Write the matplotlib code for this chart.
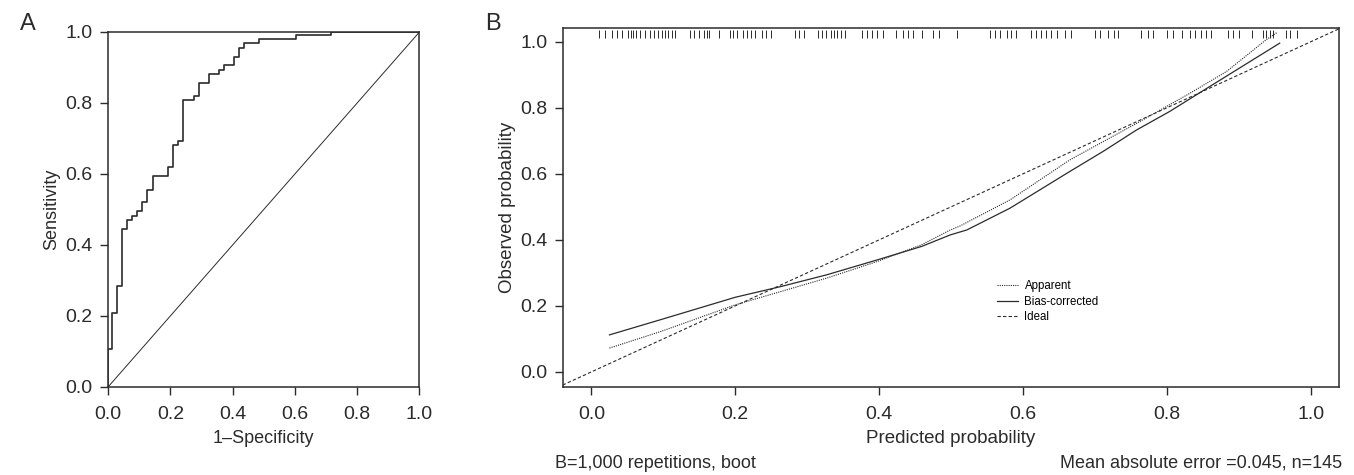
import matplotlib.pyplot as plt

plt.rcParams['font.family'] = ['Liberation Sans', 'DejaVu Sans']

# panel A: ROC curve (step points)
fpr = [0.0, 0.0, 0.012, 0.012, 0.029, 0.029, 0.046, 0.046, 0.062, 0.062, 0.077, 0.077,
       0.093, 0.093, 0.110, 0.110, 0.126, 0.126, 0.143, 0.143, 0.193, 0.193, 0.209, 0.209,
       0.226, 0.226, 0.241, 0.241, 0.275, 0.275, 0.292, 0.292, 0.324, 0.324, 0.357, 0.357,
       0.373, 0.373, 0.405, 0.405, 0.421, 0.421, 0.437, 0.437, 0.486, 0.486, 0.602, 0.602,
       0.716, 0.716, 1.0]
tpr = [0.0, 0.108, 0.108, 0.209, 0.209, 0.284, 0.284, 0.444, 0.444, 0.470, 0.470, 0.481,
       0.481, 0.495, 0.495, 0.520, 0.520, 0.556, 0.556, 0.595, 0.595, 0.620, 0.620, 0.681,
       0.681, 0.693, 0.693, 0.807, 0.807, 0.819, 0.819, 0.855, 0.855, 0.882, 0.882, 0.893,
       0.893, 0.906, 0.906, 0.930, 0.930, 0.954, 0.954, 0.968, 0.968, 0.979, 0.979, 0.992,
       0.992, 1.0, 1.0]

# panel B: calibration curves
pred_app = [0.025, 0.096, 0.200, 0.327, 0.397, 0.459, 0.499, 0.5125, 0.582, 0.665, 0.758, 0.832, 0.883, 0.938, 0.953]
obs_app = [0.072, 0.122, 0.203, 0.284, 0.334, 0.385, 0.430, 0.442, 0.521, 0.642, 0.753, 0.844, 0.910, 1.006, 1.028]
pred_bc = [0.025, 0.096, 0.200, 0.2625, 0.327, 0.397, 0.459, 0.499, 0.522, 0.582, 0.665, 0.7115, 0.758, 0.804, 0.860, 0.957]
obs_bc = [0.112, 0.158, 0.226, 0.258, 0.294, 0.339, 0.380, 0.415, 0.430, 0.496, 0.607, 0.668, 0.733, 0.789, 0.865, 0.996]
ideal = [-0.04, 1.04]

# predicted probabilities of the sample (rug at top)
rug = [0.011, 0.019, 0.028, 0.036, 0.043, 0.051, 0.055, 0.058, 0.062, 0.068, 0.074, 0.081,
       0.087, 0.093, 0.098, 0.102, 0.107, 0.112, 0.116, 0.137, 0.142, 0.150, 0.156, 0.160,
       0.164, 0.178, 0.192, 0.197, 0.202, 0.210, 0.216, 0.222, 0.227, 0.237, 0.242, 0.249,
       0.283, 0.288, 0.295, 0.315, 0.320, 0.326, 0.333, 0.337, 0.341, 0.347, 0.353, 0.376,
       0.383, 0.390, 0.397, 0.405, 0.424, 0.433, 0.440, 0.447, 0.460, 0.475, 0.483, 0.508,
       0.554, 0.561, 0.568, 0.578, 0.584, 0.591, 0.611, 0.618, 0.625, 0.632, 0.639, 0.647,
       0.659, 0.667, 0.700, 0.707, 0.718, 0.727, 0.732, 0.764, 0.774, 0.781, 0.800, 0.809,
       0.821, 0.832, 0.839, 0.848, 0.855, 0.862, 0.885, 0.892, 0.901, 0.918, 0.934, 0.938,
       0.943, 0.948, 0.966, 0.971, 0.981]

ticks = [0.0, 0.2, 0.4, 0.6, 0.8, 1.0]
col = '#2b2b2b'

fig = plt.figure(figsize=(13.54, 4.75), dpi=100)

axA = fig.add_axes([0.0798, 0.1853, 0.2300, 0.7474])
axA.plot(fpr, tpr, color=col, lw=1.2)
axA.plot([0, 1], [0, 1], color=col, lw=0.7)
axA.set_xlim(0, 1)
axA.set_ylim(0, 1)
axA.set_xticks(ticks)
axA.set_yticks(ticks)
axA.set_xticklabels(['%.1f' % t for t in ticks])
axA.set_yticklabels(['%.1f' % t for t in ticks])
axA.set_xlabel('1–Specificity', fontsize=13, color=col, labelpad=5)
axA.set_ylabel('Sensitivity', fontsize=13, color=col, labelpad=4)

axB = fig.add_axes([0.4156, 0.1859, 0.5736, 0.7545])
axB.plot(pred_app, obs_app, color=col, lw=0.8, ls=(0, (1, 1)), label='Apparent')
axB.plot(pred_bc, obs_bc, color=col, lw=0.9, label='Bias-corrected')
axB.plot(ideal, ideal, color=col, lw=0.8, ls=(0, (3, 2)), label='Ideal')
axB.vlines(rug, 0.972, 0.995, transform=axB.get_xaxis_transform(), color=col, lw=0.7)
axB.set_xlim(-0.04, 1.04)
axB.set_ylim(-0.045, 1.041)
axB.set_xticks(ticks)
axB.set_yticks(ticks)
axB.set_xticklabels(['%.1f' % t for t in ticks])
axB.set_yticklabels(['%.1f' % t for t in ticks])
axB.set_xlabel('Predicted probability', fontsize=13.5, color=col, labelpad=5)
axB.set_ylabel('Observed probability', fontsize=13.5, color=col, labelpad=3)
axB.legend(loc='upper left', bbox_to_anchor=(0.553, 0.31), frameon=False, fontsize=8.3,
           handlelength=1.8, handletextpad=0.6, labelspacing=0.3, borderaxespad=0)

for ax in (axA, axB):
    for s in ax.spines.values():
        s.set_color(col)
        s.set_linewidth(1.1)
    ax.tick_params(direction='out', length=6, width=1.0, color=col, labelsize=14,
                   labelcolor=col, pad=5)
    ax.tick_params(axis='x', pad=8)

fig.text(0.015, 0.95, 'A', fontsize=17, color=col, ha='left', va='center')
fig.text(0.358, 0.95, 'B', fontsize=17, color=col, ha='left', va='center')
fig.text(0.410, 0.025, 'B=1,000 repetitions, boot', fontsize=13, color=col, ha='left', va='center')
fig.text(0.991, 0.025, 'Mean absolute error =0.045, n=145', fontsize=13, color=col,
         ha='right', va='center')

fig.savefig('out.png', dpi=100)
